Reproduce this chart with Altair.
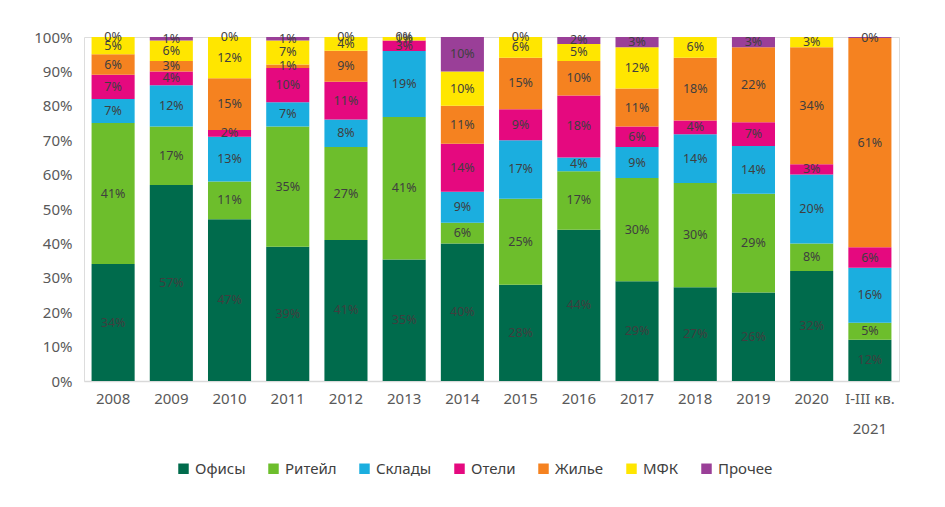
import altair as alt
import pandas as pd

years = ["2008", "2009", "2010", "2011", "2012", "2013", "2014", "2015",
         "2016", "2017", "2018", "2019", "2020", "I-III кв.\n2021"]
series = ["Офисы", "Ритейл", "Склады", "Отели", "Жилье", "МФК", "Прочее"]
colors = ["#006B4C", "#6DBE2C", "#1BAEDF", "#E5097F", "#F58220", "#FFE600", "#9A3F98"]

offices = [34, 57, 47, 39, 41, 35, 40, 28, 44, 29, 27, 26, 32, 12]
retail = [41, 17, 11, 35, 27, 41, 6, 25, 17, 30, 30, 29, 8, 5]
warehouses = [7, 12, 13, 7, 8, 19, 9, 17, 4, 9, 14, 14, 20, 16]
hotels = [7, 4, 2, 10, 11, 3, 14, 9, 18, 6, 4, 7, 3, 6]
housing = [6, 3, 15, 1, 9, None, 11, 15, 10, 11, 18, 22, 34, 61]
mfc = [5, 6, 12, 7, 4, 1, 10, 6, 5, 12, 6, None, 3, None]
other = [0, 1, 0, 1, 0, 0, 10, 0, 2, 3, None, 3, None, 0.3]
y_ticks = [0, 0.1, 0.2, 0.3, 0.4, 0.5, 0.6, 0.7, 0.8, 0.9, 1.0]

cols = [offices, retail, warehouses, hotels, housing, mfc, other]
rows = []
for si, (s, vals) in enumerate(zip(series, cols)):
    for yi, (y, v) in enumerate(zip(years, vals)):
        if v is None:
            continue
        rows.append({"year": y, "series": s, "idx": si, "value": v})
df = pd.DataFrame(rows)

FONT = "Noto Sans"

base = alt.Chart(df).transform_joinaggregate(
    total="sum(value)", groupby=["year"]
).transform_window(
    cum="sum(value)", groupby=["year"], sort=[alt.SortField("idx")], frame=[None, 0]
).transform_calculate(
    y0="(datum.cum - datum.value) / datum.total",
    y1="datum.cum / datum.total",
    ymid="(datum.cum - datum.value / 2) / datum.total",
    lbl="format(datum.value / 100, '.0%')",
)

xaxis = alt.Axis(labelExpr="split(datum.label, '\\n')", labelAngle=0,
                 labelFontSize=15, labelColor="#595959", labelFont=FONT,
                 labelPadding=10, labelLineHeight=30,
                 ticks=False, domainColor="#D9D9D9", domainWidth=1.5)
yaxis = alt.Axis(format=".0%", values=y_ticks, tickCount=11,
                 grid=False, ticks=False, domain=False, labelOverlap=False,
                 labelFontSize=15, labelColor="#595959", labelFont=FONT,
                 labelPadding=12)
xscale = alt.Scale(paddingInner=0.26, paddingOuter=0.13)
yscale = alt.Scale(domain=[0, 1], nice=False)

bars = base.mark_bar().encode(
    x=alt.X("year:N", sort=years, title=None, scale=xscale, axis=xaxis),
    y=alt.Y("y0:Q", scale=yscale, title=None, axis=yaxis),
    y2="y1:Q",
    color=alt.Color("series:N", sort=series,
                    scale=alt.Scale(domain=series, range=colors),
                    legend=alt.Legend(title=None, orient="none", direction="horizontal",
                                      legendX=92, legendY=424,
                                      symbolType="square", symbolSize=110,
                                      symbolStrokeWidth=0,
                                      labelFontSize=15, labelColor="#404040",
                                      labelFont=FONT, columnPadding=20,
                                      symbolOffset=0)),
)

labels = base.mark_text(fontSize=12.5, color="#3F3F3F", font=FONT).encode(
    x=alt.X("year:N", sort=years, title=None, scale=xscale, axis=xaxis),
    y=alt.Y("ymid:Q", scale=yscale, title=None, axis=yaxis),
    text="lbl:N",
)

chart = alt.layer(bars, labels).properties(
    width=815, height=344,
    autosize=alt.AutoSizeParams(type="none"),
    padding={"left": 76, "top": 29, "right": 30, "bottom": 110},
).configure_view(stroke=None).configure(background="white")

chart.save("out.html", embed_options={"renderer": "svg", "actions": False})
